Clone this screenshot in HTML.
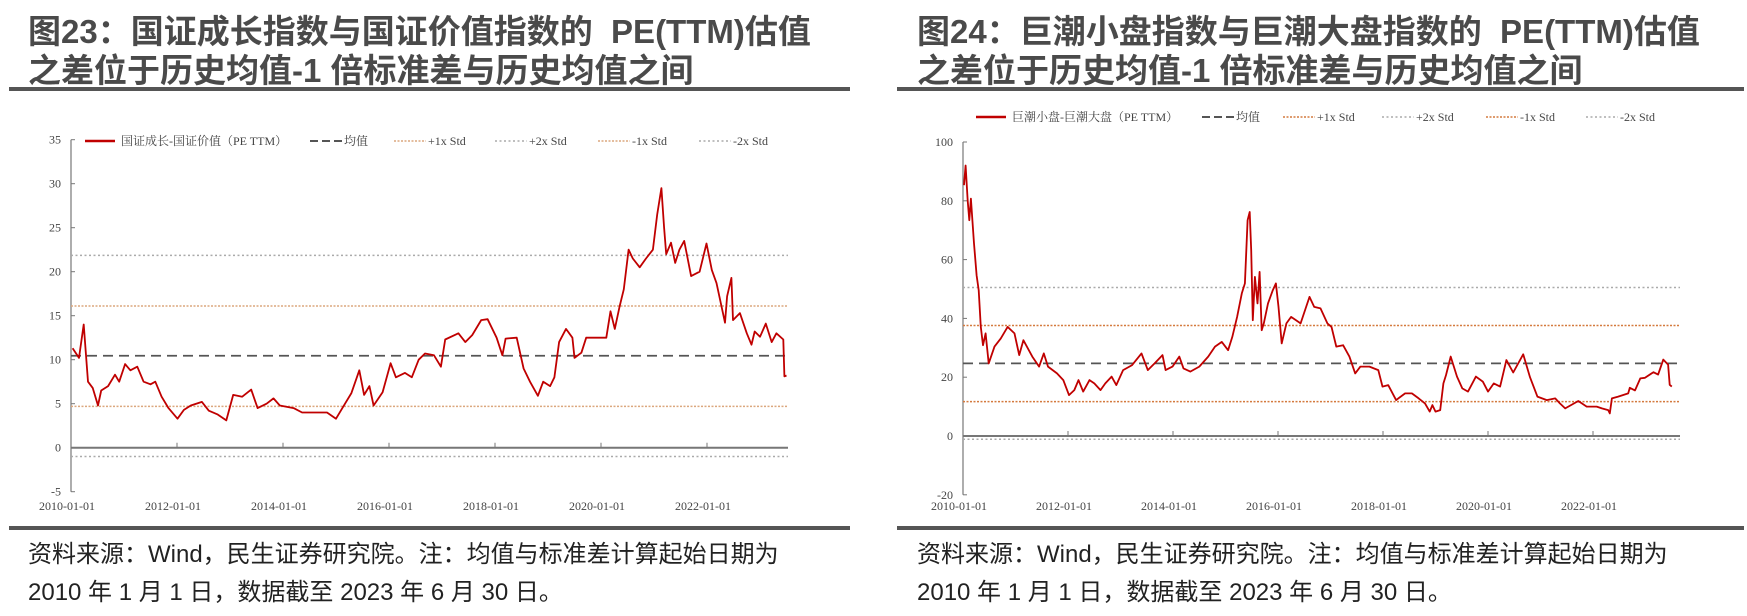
<!DOCTYPE html>
<html><head><meta charset="utf-8">
<style>
body{margin:0;background:#fff;width:1747px;height:616px;overflow:hidden;position:relative;font-family:"Liberation Sans","Noto Sans CJK SC",sans-serif;}
.title{position:absolute;font-weight:bold;font-size:33px;line-height:39px;color:#4a4a4a;white-space:nowrap;}
.rule{position:absolute;height:4px;background:#555;}
.foot{position:absolute;font-size:24px;line-height:38px;color:#222;white-space:nowrap;}
svg{position:absolute;left:0;top:0;}
svg text{font-family:"Liberation Serif","Noto Serif CJK SC",serif;fill:#444;}
</style></head>
<body>
<div class="title" style="left:28px;top:12px;">图23：国证成长指数与国证价值指数的&nbsp; PE(TTM)估值<br>之差位于历史均值-1 倍标准差与历史均值之间</div>
<div class="rule" style="left:9px;width:841px;top:87px;"></div>
<div class="title" style="left:917px;top:12px;">图24：巨潮小盘指数与巨潮大盘指数的&nbsp; PE(TTM)估值<br>之差位于历史均值-1 倍标准差与历史均值之间</div>
<div class="rule" style="left:897px;width:847px;top:87px;"></div>
<div class="rule" style="left:9px;width:841px;top:526px;"></div>
<div class="rule" style="left:897px;width:847px;top:526px;"></div>
<div class="foot" style="left:28px;top:536px;">资料来源：Wind，民生证券研究院。注：均值与标准差计算起始日期为<br>2010 年 1 月 1 日，数据截至 2023 年 6 月 30 日。</div>
<div class="foot" style="left:917px;top:536px;">资料来源：Wind，民生证券研究院。注：均值与标准差计算起始日期为<br>2010 年 1 月 1 日，数据截至 2023 年 6 月 30 日。</div>
<svg id="chart" width="1747" height="616"></svg>
<script>
// ---- Chart 23 data ----
const xTickLabels = ["2010-01-01","2012-01-01","2014-01-01","2016-01-01","2018-01-01","2020-01-01","2022-01-01"];
const xTickYears = [2010,2012,2014,2016,2018,2020,2022];
const yTicks23 = [-5,0,5,10,15,20,25,30,35];
const dates23 = [2010.03,2010.15,2010.24,2010.32,2010.41,2010.51,2010.57,2010.70,2010.83,2010.91,2011.02,2011.12,2011.25,2011.37,2011.50,2011.59,2011.71,2011.84,2012.01,2012.13,2012.26,2012.47,2012.60,2012.76,2012.93,2013.06,2013.23,2013.40,2013.52,2013.69,2013.82,2013.94,2014.20,2014.36,2014.62,2014.83,2015.00,2015.17,2015.29,2015.44,2015.53,2015.63,2015.71,2015.88,2016.03,2016.13,2016.30,2016.43,2016.56,2016.68,2016.85,2016.98,2017.06,2017.31,2017.44,2017.57,2017.74,2017.86,2018.03,2018.14,2018.20,2018.41,2018.54,2018.66,2018.81,2018.91,2019.04,2019.12,2019.21,2019.34,2019.46,2019.50,2019.63,2019.72,2019.93,2020.10,2020.18,2020.26,2020.35,2020.43,2020.52,2020.60,2020.73,2020.85,2020.98,2021.06,2021.14,2021.19,2021.23,2021.32,2021.40,2021.48,2021.57,2021.70,2021.86,2021.99,2022.09,2022.18,2022.34,2022.38,2022.46,2022.49,2022.62,2022.75,2022.84,2022.90,2023.00,2023.11,2023.22,2023.31,2023.44,2023.46,2023.50];
const values23 = [11.3,10.2,14,7.5,6.8,4.8,6.5,7,8.3,7.5,9.5,8.8,9.2,7.5,7.2,7.5,5.8,4.5,3.3,4.3,4.8,5.2,4.2,3.8,3.1,6,5.8,6.6,4.5,5,5.6,4.8,4.5,4,4,4,3.3,5,6.2,8.8,6,7,4.8,6.3,9.6,8,8.5,8,10,10.7,10.5,9.2,12.3,13,12,12.8,14.5,14.6,12.5,10.5,12.4,12.5,9,7.5,5.9,7.5,7,8,12,13.5,12.5,10.2,10.8,12.5,12.5,12.5,15.5,13.5,16,18,22.5,21.5,20.5,21.5,22.5,26.5,29.5,25,22,23.3,21,22.5,23.5,19.5,20,23.2,20.2,18.7,14.2,17.2,19.3,14.5,15.3,13,11.7,13.2,12.6,14.1,12,13,12.3,8.1,8.2];
const refs23 = [10.45,16.1,21.85,4.7,-1.0]; // mean, +1, +2, -1, -2
// ---- Chart 24 data ----
const yTicks24 = [-20,0,20,40,60,80,100];
const dates24 = [2010.02,2010.05,2010.09,2010.12,2010.15,2010.21,2010.26,2010.30,2010.34,2010.38,2010.43,2010.49,2010.60,2010.72,2010.85,2010.98,2011.07,2011.15,2011.32,2011.45,2011.54,2011.62,2011.79,2011.91,2012.02,2012.12,2012.20,2012.29,2012.41,2012.50,2012.62,2012.71,2012.83,2012.92,2013.05,2013.22,2013.40,2013.52,2013.65,2013.80,2013.86,2013.99,2014.12,2014.20,2014.33,2014.50,2014.67,2014.80,2014.93,2015.05,2015.13,2015.22,2015.31,2015.37,2015.42,2015.46,2015.49,2015.52,2015.56,2015.61,2015.65,2015.69,2015.73,2015.81,2015.90,2015.96,2016.01,2016.07,2016.16,2016.25,2016.43,2016.60,2016.69,2016.81,2016.94,2017.02,2017.11,2017.24,2017.36,2017.47,2017.57,2017.74,2017.91,2017.99,2018.10,2018.25,2018.42,2018.55,2018.68,2018.80,2018.89,2018.94,2019.00,2019.09,2019.15,2019.20,2019.29,2019.41,2019.51,2019.62,2019.77,2019.90,2020.00,2020.11,2020.23,2020.35,2020.48,2020.67,2020.80,2020.94,2021.12,2021.28,2021.37,2021.47,2021.72,2021.88,2022.07,2022.17,2022.29,2022.32,2022.36,2022.48,2022.67,2022.70,2022.80,2022.90,2022.99,2023.15,2023.24,2023.34,2023.43,2023.46,2023.50];
const values24 = [85.3,92,80,73.4,80.7,65.5,54.7,49.6,37.1,30.9,34.9,24.7,30.4,33.2,37.1,34.9,27.5,32.6,27,23.6,28.1,23.6,21.3,19,13.9,15.6,19,15.1,19,17.9,15.6,17.9,20.2,17.3,22.4,24.1,28.1,22.4,24.7,27.5,22.4,23.6,27,23,21.9,23.6,27,30.4,32,29.2,33.7,40.5,48.5,51.9,73.4,76.2,63.2,39.4,54.1,45.1,55.8,36,38.3,45.1,49.6,51.9,43.9,31.5,38.3,40.5,38.3,47.3,43.9,43.4,38.3,37.1,30.4,30.9,27,21.3,23.6,23.6,22.4,16.8,17.3,12.2,14.5,14.5,12.8,11.1,8.3,10.5,8.3,8.8,17.9,20.7,27,20.2,16.2,15.1,20.2,18.5,15.1,17.9,16.8,25.8,21.6,27.8,20,13.4,12.2,12.8,11.1,9.4,11.9,10,10,9.4,8.8,7.7,12.8,13.4,14.5,16.4,15.5,19.6,19.8,21.7,20.9,26,24.3,17.4,16.8];
const refs24 = [24.7,37.6,50.5,11.7,-1.1];

const NS = "http://www.w3.org/2000/svg";
const svg = document.getElementById('chart');
function mk(tag, attrs){const e=document.createElementNS(NS,tag);for(const k in attrs)e.setAttribute(k,attrs[k]);svg.appendChild(e);return e;}

function drawChart(p, dates, values, refs, yTicks, legendLabel){
  const xs = t => p.x0 + (t-2010)*p.pxYear;
  const ys = v => p.yZero - v*p.pxUnit;
  const yMin = yTicks[0], yMax = yTicks[yTicks.length-1];
  // y axis
  const ya = mk('line',{x1:p.x0,y1:ys(yMax),x2:p.x0,y2:ys(yMin),stroke:'#777','stroke-width':1.2});
  
  
  yTicks.forEach(v=>{
    const tk = mk('line',{x1:p.x0,y1:ys(v),x2:p.x0+4,y2:ys(v),stroke:'#777','stroke-width':1});
    
    
    const tl = mk('text',{x:p.x0-10,y:ys(v)+4,'text-anchor':'end','font-size':12});
    
    
    tl.textContent = v;
  });
  // x axis at zero
  const xa = mk('line',{x1:p.x0,y1:ys(0),x2:p.xEnd,y2:ys(0),stroke:'#777','stroke-width':2});
  
  
  xTickYears.forEach((yr,i)=>{
    if(i>0){
      const tk = mk('line',{x1:xs(yr),y1:ys(0),x2:xs(yr),y2:ys(0)-5,stroke:'#777','stroke-width':1});
      
      
    }
    const tl = mk('text',{x:xs(yr)-4,y:p.labelY,'text-anchor':'middle','font-size':12});
    
    
    tl.textContent = xTickLabels[i];
  });
  // reference lines
  const refStyles = [
    {c:'#555',w:1.8,d:'10,6',n:'mean-line'},
    {c:p.std1Color,w:1.5,d:'2,1.5',n:'plus-1-std-line'},
    {c:'#aaa',w:1.5,d:'2,2.5',n:'plus-2-std-line'},
    {c:p.std1Color,w:1.5,d:'2,1.5',n:'minus-1-std-line'},
    {c:'#aaa',w:1.5,d:'2,2.5',n:'minus-2-std-line'}];
  refs.forEach((v,i)=>{
    const s=refStyles[i];
    const l = mk('line',{x1:p.x0,y1:ys(v),x2:p.xEnd,y2:ys(v),stroke:s.c,'stroke-width':s.w,'stroke-dasharray':s.d});
    
    
  });
  // series
  const pts = dates.map((t,i)=>xs(t).toFixed(1)+','+ys(values[i]).toFixed(1)).join(' ');
  const pl = mk('polyline',{points:pts,fill:'none',stroke:'#c00000','stroke-width':1.8,'stroke-linejoin':'round'});
  
  
  // legend
  const labels=[legendLabel,'均值','+1x Std','+2x Std','-1x Std','-2x Std'];
  const lst=[{c:'#c00000',w:2.5,d:'none'}].concat(refStyles);
  labels.forEach((lab,i)=>{
    const lx=p.legX[i];
    const s=lst[i];
    const ll = mk('line',{x1:lx,y1:p.legY,x2:lx+(i===0?30:32),y2:p.legY,stroke:s.c,'stroke-width':i===1?2:(s.w||1.5),'stroke-dasharray':i===1?'8,4':s.d});
    
    
    const lt = mk('text',{x:lx+(i===0?36:34),y:p.legY+4,'font-size':12});
    
    
    lt.textContent = lab;
  });
}

drawChart({id:'chart23',x0:71,pxYear:53,yZero:447.7,pxUnit:8.8,xEnd:788,labelY:510,std1Color:'#dba77e',
  legY:141,legX:[85,310,394,495,598,699]}, dates23, values23, refs23, yTicks23, '国证成长-国证价值（PE TTM）');
drawChart({id:'chart24',x0:963,pxYear:52.5,yZero:436,pxUnit:2.94,xEnd:1680,labelY:510,std1Color:'#d47a3e',
  legY:117,legX:[976,1202,1283,1382,1486,1586]}, dates24, values24, refs24, yTicks24, '巨潮小盘-巨潮大盘（PE TTM）');
</script>
</body></html>
